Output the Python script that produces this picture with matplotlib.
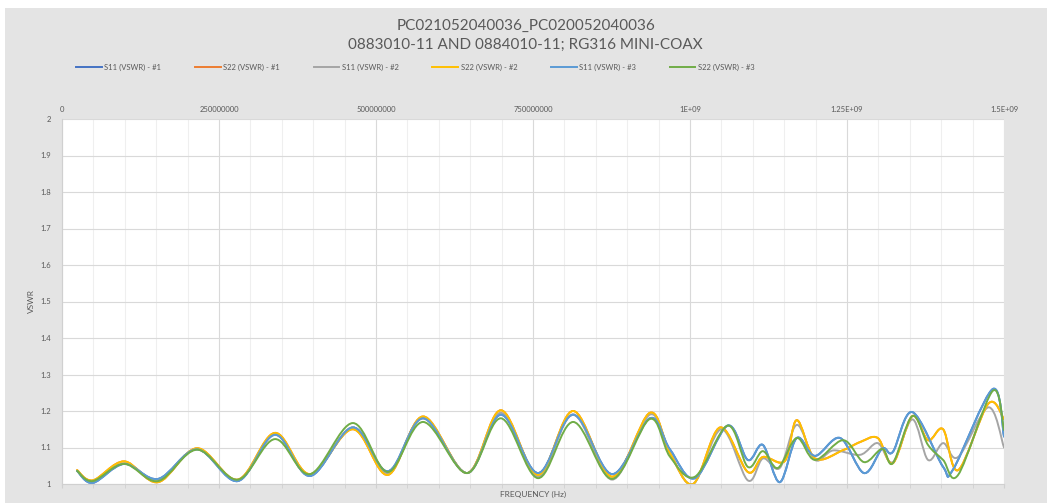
import numpy as np
import matplotlib
matplotlib.use("Agg")
import matplotlib.pyplot as plt
from matplotlib.path import Path
from matplotlib.patches import PathPatch, Rectangle
from matplotlib.lines import Line2D
from matplotlib.ticker import MultipleLocator, FixedLocator

plt.rcParams['font.family'] = ['Lato', 'DejaVu Sans']

# Chart data (frequency in MHz, VSWR)
s11_2_f = [24, 49, 99, 153, 215, 280, 339, 395, 463, 519, 575, 645, 699, 758, 814, 876,
           936, 968, 1005, 1050, 1092, 1116, 1143, 1170, 1199, 1228, 1271, 1299, 1323,
           1354, 1379, 1403, 1427, 1475, 1500]
s11_2_v = [1.036, 1.006, 1.057, 1.012, 1.096, 1.011, 1.135, 1.025, 1.155, 1.030, 1.180, 1.030,
           1.195, 1.020, 1.190, 1.012, 1.190, 1.085, 1.000, 1.150, 1.010, 1.070, 1.044, 1.162,
           1.066, 1.092, 1.080, 1.112, 1.060, 1.177, 1.066, 1.112, 1.074, 1.210, 1.100]

s22_2_f = [24, 49, 99, 153, 215, 280, 339, 395, 463, 519, 575, 645, 699, 758, 814, 876,
           936, 968, 1005, 1048, 1092, 1116, 1151, 1170, 1199, 1244, 1271, 1299, 1323,
           1354, 1379, 1403, 1427, 1475, 1500]
s22_2_v = [1.038, 1.010, 1.062, 1.005, 1.098, 1.012, 1.140, 1.027, 1.150, 1.025, 1.185, 1.030,
           1.202, 1.025, 1.200, 1.020, 1.195, 1.085, 1.000, 1.155, 1.033, 1.074, 1.063, 1.175,
           1.070, 1.093, 1.115, 1.126, 1.057, 1.186, 1.120, 1.150, 1.038, 1.220, 1.178]

s11_3_f = [24, 49, 99, 153, 215, 280, 339, 395, 463, 519, 575, 645, 699, 758, 814, 876,
           936, 968, 1008, 1060, 1092, 1116, 1143, 1170, 1199, 1239, 1277, 1306, 1323,
           1354, 1403, 1419, 1482, 1500]
s11_3_v = [1.036, 1.003, 1.055, 1.014, 1.095, 1.008, 1.135, 1.022, 1.155, 1.035, 1.180, 1.030,
           1.190, 1.030, 1.190, 1.027, 1.180, 1.095, 1.016, 1.160, 1.066, 1.107, 1.005, 1.126,
           1.077, 1.126, 1.030, 1.097, 1.088, 1.197, 1.047, 1.040, 1.260, 1.130]

s22_3_f = [24, 49, 99, 153, 215, 280, 339, 395, 463, 519, 575, 645, 699, 758, 814, 876,
           936, 968, 1008, 1060, 1092, 1116, 1140, 1170, 1199, 1244, 1277, 1306, 1323,
           1354, 1379, 1403, 1427, 1482, 1500]
s22_3_v = [1.036, 1.008, 1.055, 1.008, 1.094, 1.012, 1.123, 1.027, 1.167, 1.033, 1.170, 1.030,
           1.180, 1.016, 1.170, 1.014, 1.178, 1.075, 1.020, 1.160, 1.047, 1.090, 1.044, 1.126,
           1.066, 1.120, 1.060, 1.096, 1.057, 1.186, 1.107, 1.066, 1.025, 1.255, 1.148]

# runs #1 sit underneath runs #3 / #2 in the reference
series = [
    ('S11 (VSWR) - #1', '#4472C4', s11_3_f, s11_3_v),
    ('S22 (VSWR) - #1', '#ED7D31', s22_2_f, s22_2_v),
    ('S11 (VSWR) - #2', '#A5A5A5', s11_2_f, s11_2_v),
    ('S22 (VSWR) - #2', '#FFC000', s22_2_f, s22_2_v),
    ('S11 (VSWR) - #3', '#5B9BD5', s11_3_f, s11_3_v),
    ('S22 (VSWR) - #3', '#70AD47', s22_3_f, s22_3_v),
]

x_ticks = [0, 250e6, 500e6, 750e6, 1e9, 1.25e9, 1.5e9]
x_tick_labels = ['0', '250000000', '500000000', '750000000', '1E+09', '1.25E+09', '1.5E+09']

TEXT = '#595959'


def smooth_path(xs, ys):
    """Excel style smoothed line: cubic bezier through every data point."""
    pts = np.column_stack([xs, ys])
    n = len(pts)
    verts = [pts[0]]
    codes = [Path.MOVETO]
    for i in range(n - 1):
        p0 = pts[i - 1] if i > 0 else pts[i]
        p1 = pts[i]
        p2 = pts[i + 1]
        p3 = pts[i + 2] if i + 2 < n else pts[i + 1]
        c1 = p1 + (p2 - p0) / 6.0
        c2 = p2 - (p3 - p1) / 6.0
        verts += [c1, c2, p2]
        codes += [Path.CURVE4] * 3
    return Path(verts, codes)


W, H = 1047, 503
fig = plt.figure(figsize=(W / 100, H / 100), dpi=100)
fig.patch.set_facecolor('white')
fig.patches.append(Rectangle((5 / W, 0), 1 - 5 / W, 1 - 8 / H, transform=fig.transFigure,
                             facecolor='#E4E4E4', edgecolor='none', zorder=-10))

ax = fig.add_axes([62 / W, 1 - 484 / H, (1004 - 62) / W, (484 - 119) / H])
ax.set_facecolor('white')

for name, color, f, v in series:
    patch = PathPatch(smooth_path(np.array(f) * 1e6, np.array(v)), facecolor='none',
                      edgecolor=color, lw=1.4, capstyle='round', joinstyle='round')
    ax.add_patch(patch)

ax.set_xlim(0, 1.5e9)
ax.set_ylim(1, 2)

# axes, ticks and grid
ax.xaxis.set_major_locator(FixedLocator(x_ticks))
ax.xaxis.set_minor_locator(MultipleLocator(50e6))
ax.xaxis.tick_top()
ax.set_xticklabels(x_tick_labels)
ax.tick_params(axis='x', which='both', top=False, bottom=True, labeltop=True, labelbottom=False,
               direction='out', length=3, color='#D0D0D0', labelsize=5.5, labelcolor=TEXT, pad=1.5)
ax.set_yticks(np.arange(1.0, 2.01, 0.1))
ax.set_yticklabels(['1', '1.1', '1.2', '1.3', '1.4', '1.5', '1.6', '1.7', '1.8', '1.9', '2'])
ax.tick_params(axis='y', length=0, labelsize=5.5, labelcolor=TEXT, pad=8)

ax.grid(True, which='major', color='#D9D9D9', lw=0.8)
ax.grid(True, which='minor', axis='x', color='#EFEFEF', lw=0.8)
ax.set_axisbelow(True)
for side in ['top', 'right']:
    ax.spines[side].set_visible(False)
ax.spines['left'].set_color('#D0D0D0')
ax.spines['bottom'].set_color('#D0D0D0')

ax.xaxis.set_label_position('bottom')
ax.set_xlabel('FREQUENCY (Hz)', fontsize=6, color=TEXT, labelpad=2)
ax.set_ylabel('VSWR', fontsize=6, color=TEXT, labelpad=4)

fig.text(0.502, 1 - 26 / H, 'PC021052040036_PC020052040036', ha='center', va='center',
         fontsize=11, color=TEXT)
fig.text(0.502, 1 - 45 / H, '0883010-11 AND 0884010-11; RG316 MINI-COAX', ha='center',
         va='center', fontsize=11, color=TEXT)

handles = [Line2D([], [], color=c, lw=1.4) for _, c, _, _ in series]
fig.legend(handles, [s[0] for s in series], loc='center left', bbox_to_anchor=(76 / W, 1 - 67 / H),
           ncol=6, frameon=False, fontsize=5.5, labelcolor=TEXT, handlelength=3.4,
           handletextpad=0.3, columnspacing=4.4, borderpad=0, borderaxespad=0)

fig.savefig('out.png', dpi=100, facecolor=fig.get_facecolor())
